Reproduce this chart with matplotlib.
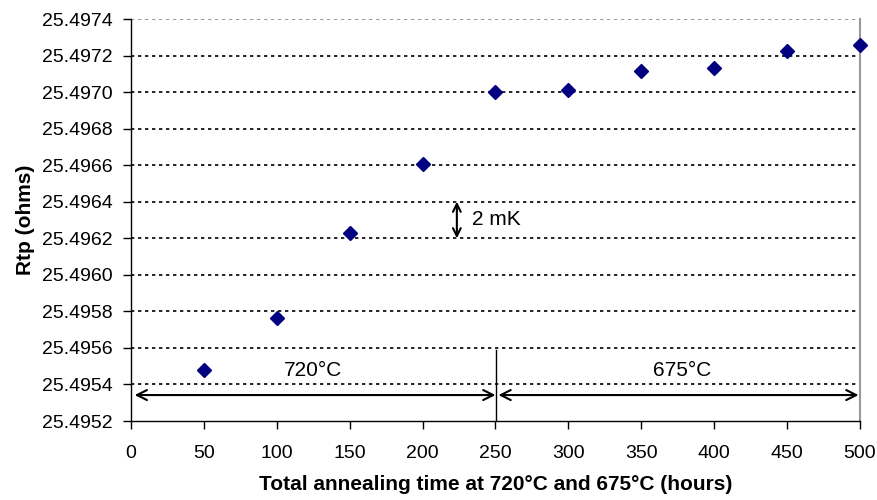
import matplotlib
matplotlib.use("Agg")
import matplotlib.pyplot as plt
import numpy as np

plt.rcParams['font.family'] = ['Liberation Sans', 'DejaVu Sans']

hours = [50, 100, 150, 200, 250, 300, 350, 400, 450, 500]
rtp = [25.495479, 25.495766, 25.496229, 25.496609, 25.497003,
       25.497011, 25.497115, 25.497134, 25.497227, 25.497260]
yticks = [25.4952 + 0.0002 * i for i in range(12)]
xticks = list(range(0, 501, 50))

fig = plt.figure(figsize=(8.78, 5.0), dpi=100)
ax = fig.add_axes([131/878, 79/500, 729/878, 402/500])

ax.set_xlim(0, 500)
ax.set_ylim(25.4952, 25.4974)

for yv in yticks[1:-1]:
    ax.axhline(yv, color='black', lw=1.2, ls=(0, (2, 2.2)), zorder=1)
ax.axhline(yticks[-1], color='#888888', lw=1.2, ls=(0, (2, 2.2)), zorder=1)

ax.plot(hours, rtp, ls='none', marker='D', ms=7.5, color='#000080', zorder=3, clip_on=False)

ax.set_xticks(xticks)
ax.set_xticklabels([str(x) for x in xticks])
ax.set_yticks(yticks)
ax.set_yticklabels([f"{v:.4f}" for v in yticks])
ax.tick_params(axis='both', direction='out', length=6, width=1, labelsize=14, colors='black')
ax.tick_params(axis='x', pad=11)
ax.tick_params(axis='y', pad=7)

ax.spines['top'].set_visible(False)
ax.spines['right'].set_color('#999999')
ax.spines['right'].set_linewidth(1.5)
ax.spines['left'].set_linewidth(1)
ax.spines['bottom'].set_linewidth(1)

ax.set_xlabel('Total annealing time at 720°C and 675°C (hours)', fontsize=15, fontweight='bold', labelpad=10)
ax.set_ylabel('Rtp (ohms)', fontsize=15, fontweight='bold', labelpad=5)

# annotations
arrow_y = 25.495342
ax.annotate('', xy=(2.5, arrow_y), xytext=(250, arrow_y),
            arrowprops=dict(arrowstyle='<->', color='black', lw=1.5, shrinkA=0, shrinkB=0, mutation_scale=18))
ax.annotate('', xy=(252, arrow_y), xytext=(499, arrow_y),
            arrowprops=dict(arrowstyle='<->', color='black', lw=1.5, shrinkA=0, shrinkB=0, mutation_scale=18))
ax.plot([250.5, 250.5], [25.4952, 25.49559], color='black', lw=1, zorder=2)
ax.text(125, 25.495474, '720°C', ha='center', va='center', fontsize=15)
ax.text(378, 25.495474, '675°C', ha='center', va='center', fontsize=15)

ax.annotate('', xy=(223.5, 25.49640), xytext=(223.5, 25.49620),
            arrowprops=dict(arrowstyle='<->', color='black', lw=1.5, shrinkA=0, shrinkB=0, mutation_scale=14))
ax.text(234, 25.49630, '2 mK', ha='left', va='center', fontsize=15)

fig.savefig('out.png', dpi=100)
